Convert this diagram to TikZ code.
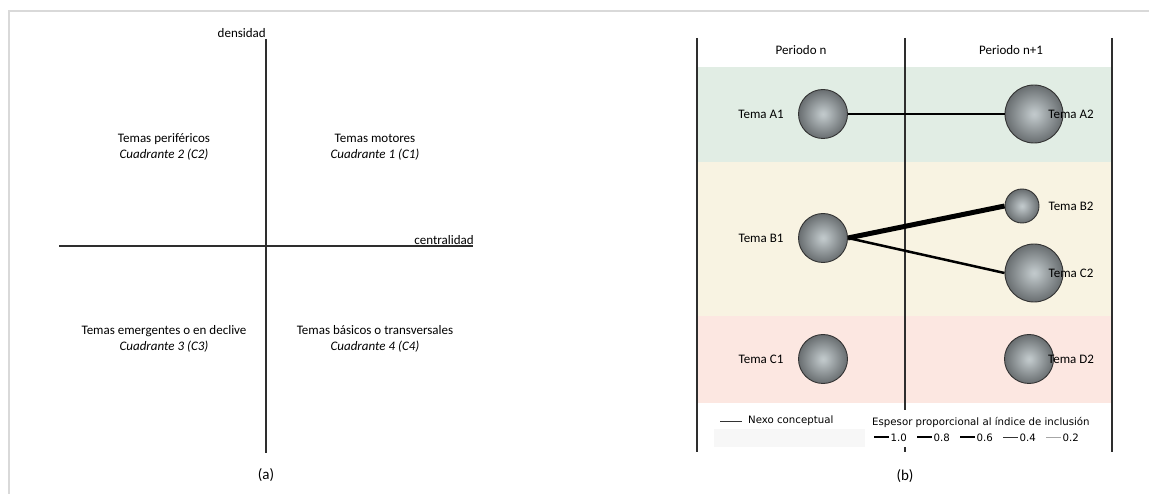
\documentclass[tikz,border=0pt]{standalone}
\usepackage{fontspec}
\setmainfont{Carlito}
\newfontfamily\legfont{DejaVu Sans}
\definecolor{axis}{HTML}{2E2E2E}
\definecolor{frame}{HTML}{D9D9D9}
\definecolor{bandA}{HTML}{E1EDE4}
\definecolor{bandB}{HTML}{F8F3E2}
\definecolor{bandC}{HTML}{FCE7E1}
\definecolor{legbg}{HTML}{F7F7F7}
\pgfdeclareradialshading{temaball}{\pgfpoint{0bp}{0bp}}{rgb(0bp)=(0.76,0.79,0.80); rgb(3bp)=(0.73,0.76,0.77); rgb(25bp)=(0.41,0.43,0.44); rgb(50bp)=(0.41,0.43,0.44)}
\begin{document}
\begin{tikzpicture}[x=1pt,y=-1pt,
  txt/.style={font=\fontsize{13}{15}\selectfont, inner sep=0pt, align=center},
  leg/.style={font=\legfont\fontsize{10.2}{12}\selectfont, inner sep=0pt},
  axisline/.style={draw=axis, line width=1.7pt},
  tema/.style={circle, draw=black!80, line width=0.9pt, inner sep=0pt, shading=temaball},
  link/.style={draw=black}
]
\useasboundingbox (0,0) rectangle (1149,494);
% frame
\draw[frame, line width=2pt] (9,494) -- (9,11) -- (1149,11);

% ===== panel (a)
\draw[axisline] (266,39) -- (266,453);
\draw[axisline] (59,246) -- (473,246);
\node[txt, anchor=east] (dens) at (266,33) {densidad};
\node[txt, anchor=south east] (cent) at (474,245) {centralidad};
\node[txt] (q2) at (164,147) {Temas periféricos\\[1pt] \textit{Cuadrante 2 (C2)}};
\node[txt] (q1) at (375,147) {Temas motores\\[1pt] \textit{Cuadrante 1 (C1)}};
\node[txt] (q3) at (164,339) {Temas emergentes o en declive\\[1pt] \textit{Cuadrante 3 (C3)}};
\node[txt] (q4) at (375,339) {Temas básicos o transversales\\[1pt] \textit{Cuadrante 4 (C4)}};
\node[txt, font=\fontsize{15}{17}\selectfont] (la) at (266,475) {(a)};

% ===== panel (b)
\fill[bandA] (697,67) rectangle (1112,162);
\fill[bandB] (697,162) rectangle (1112,316);
\fill[bandC] (697,316) rectangle (1112,403);
\draw[axisline] (697,38) -- (697,452);
\draw[axisline] (905,38) -- (905,452);
\draw[axisline] (1112,38) -- (1112,452);
\node[txt] (p1) at (801,50) {Periodo n};
\node[txt] (p2) at (1011,50) {Periodo n+1};

\node[tema, minimum size=49pt] (A1) at (823,114) {};
\node[tema, minimum size=58pt] (A2) at (1034,114) {};
\node[tema, minimum size=49pt] (B1) at (823,238) {};
\node[tema, minimum size=34pt] (B2) at (1022,206) {};
\node[tema, minimum size=58pt] (C2) at (1034,273) {};
\node[tema, minimum size=49pt] (C1) at (823,359) {};
\node[tema, minimum size=49pt] (D2) at (1029,359) {};

\draw[link, line width=1.3pt] (A1) -- (A2);
\draw[link, line width=5pt] (B1.east) -- (B2.west);
\draw[link, line width=2.5pt] (B1.east) -- (C2.west);

\node[txt] (tA1) at (761,114) {Tema A1};
\node[txt] (tA2) at (1071,114) {Tema A2};
\node[txt] (tB1) at (761,238) {Tema B1};
\node[txt] (tB2) at (1071,206) {Tema B2};
\node[txt] (tC2) at (1071,273) {Tema C2};
\node[txt] (tC1) at (761,359) {Tema C1};
\node[txt] (tD2) at (1071,359) {Tema D2};

% legend
\fill[white] (868,410) rectangle (1100,447);
\fill[legbg] (714,429) rectangle (865,447);
\coordinate (nx1) at (720,421);
\coordinate (nx2) at (742,421);
\draw[line width=0.6pt, black!80] (nx1) -- (nx2);
\node[leg, anchor=west] (nexo) at (748,421) {Nexo conceptual};
\node[leg, anchor=west] (esp) at (872,422) {Espesor proporcional al índice de inclusión};
\foreach \i/\w/\v/\c in {0/2.6/1.0/black, 1/2.0/0.8/black, 2/1.4/0.6/black, 3/1.0/0.4/black!80, 4/0.6/0.2/black!35}{
  \coordinate (s\i a) at ({874+43*\i},437);
  \coordinate (s\i b) at ({889+43*\i},437);
  \draw[line width=\w pt, \c] (s\i a) -- (s\i b);
  \node[leg, anchor=west] (n\i) at ({890.5+43*\i},437.5) {\v};
}
\node[txt, font=\fontsize{15}{17}\selectfont] (lb) at (905,476) {(b)};
\end{tikzpicture}
\end{document}
